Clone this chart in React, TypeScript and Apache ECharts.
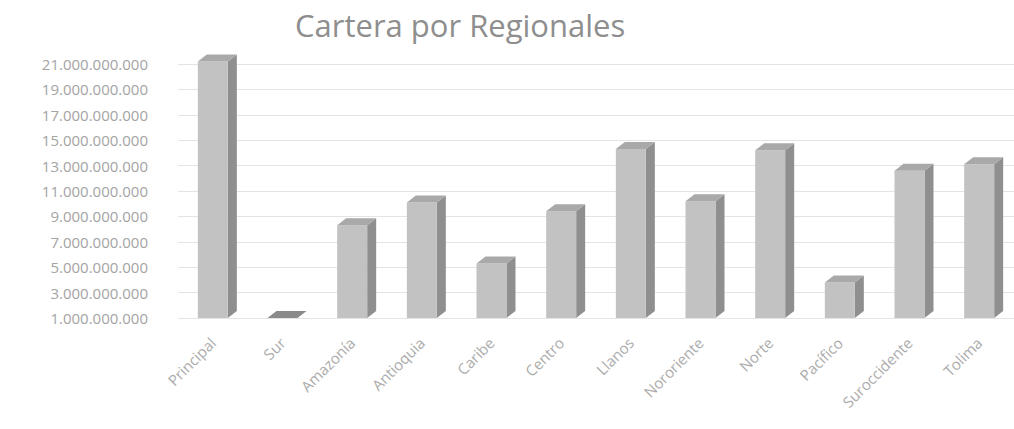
import React, { useEffect, useRef } from "react";
import * as echarts from "echarts";

const categories = [
  "Principal", "Sur", "Amazonía", "Antioquia", "Caribe", "Centro",
  "Llanos", "Nororiente", "Norte", "Pacífico", "Suroccidente", "Tolima",
];
const cartera = [
  21200000000, 1000000000, 8300000000, 10100000000, 5300000000, 9400000000,
  14300000000, 10200000000, 14200000000, 3800000000, 12600000000, 13100000000,
];
const Y_MIN = 1000000000;
const Y_MAX = 21000000000;
const Y_STEP = 2000000000;

function fmt(n: number): string {
  return String(Math.round(n)).replace(/\B(?=(\d{3})+(?!\d))/g, ".");
}

export default function App() {
  const ref = useRef<HTMLDivElement>(null);
  useEffect(() => {
    document.body.style.margin = "0";
    const chart = echarts.init(ref.current!, null, { renderer: "svg" });
    const font = "Open Sans";
    chart.setOption({
      animation: false,
      backgroundColor: "#ffffff",
      title: {
        text: "Cartera por Regionales",
        left: 290,
        top: 4,
        textStyle: { fontFamily: font, fontSize: 31, fontWeight: "normal", color: "#8e8e8e" },
      },
      grid: { left: 178, right: 0, top: 64, bottom: 111 },
      xAxis: {
        type: "category",
        data: categories,
        axisLine: { show: false },
        axisTick: { show: false },
        axisLabel: {
          rotate: 45,
          margin: 22,
          interval: 0,
          fontFamily: font,
          fontSize: 15,
          color: "#ababab",
        },
      },
      yAxis: {
        type: "value",
        min: Y_MIN,
        max: Y_MAX,
        interval: Y_STEP,
        axisLine: { show: false },
        axisTick: { show: false },
        splitLine: { lineStyle: { color: "#e4e4e4", width: 1 } },
        axisLabel: {
          margin: 30,
          fontFamily: font,
          fontSize: 15,
          color: "#a4a4a4",
          formatter: (v: number) => fmt(v),
        },
      },
      series: [
        {
          type: "custom",
          data: cartera.map((v, i) => [i, v]),
          encode: { x: 0, y: 1 },
          renderItem: (params: any, api: any) => {
            const idx = api.value(0);
            const v = api.value(1);
            const top = api.coord([idx, v]);
            const base = api.coord([idx, Y_MIN]);
            const w = 30;
            const dx = 9;
            const dy = 7;
            const x0 = top[0] - w / 2;
            const yt = top[1];
            const yb = base[1];
            return {
              type: "group",
              children: [
                {
                  type: "polygon",
                  shape: { points: [[x0 + w, yt], [x0 + w + dx, yt - dy], [x0 + w + dx, yb - dy], [x0 + w, yb]] },
                  style: { fill: "#8f8f8f" },
                },
                {
                  type: "rect",
                  shape: { x: x0, y: yt, width: w, height: Math.max(0, yb - yt) },
                  style: { fill: "#c2c2c2" },
                },
                {
                  type: "polygon",
                  shape: { points: [[x0, yt], [x0 + dx, yt - dy], [x0 + w + dx, yt - dy], [x0 + w, yt]] },
                  style: { fill: v <= Y_MIN ? "#8a8a8a" : "#a9a9a9" },
                },
              ],
            };
          },
        },
      ],
    });
    return () => chart.dispose();
  }, []);
  return <div ref={ref} style={{ width: 1014, height: 429 }} />;
}
